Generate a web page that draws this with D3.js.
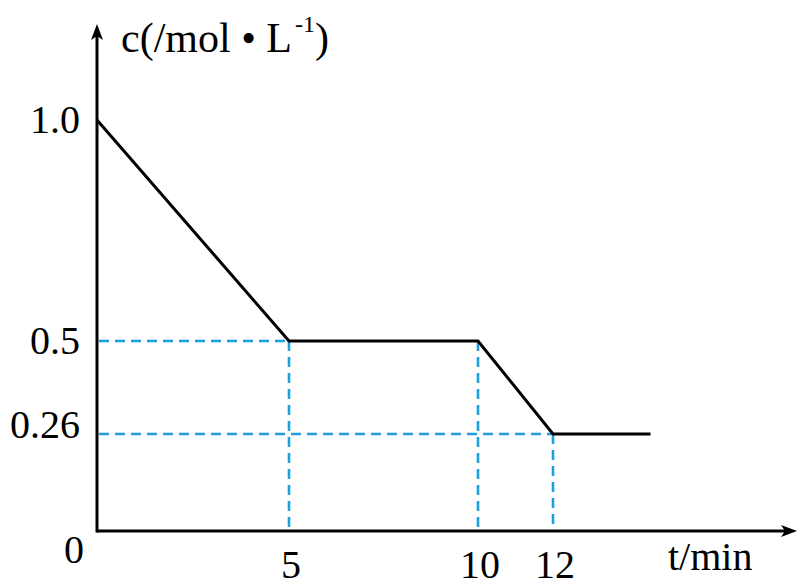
<!DOCTYPE html>
<html>
<head>
<meta charset="utf-8">
<script src="https://cdn.jsdelivr.net/npm/d3@7"></script>
<style>
  html, body { margin: 0; padding: 0; background: #fff; }
  svg { display: block; }
  text { font-family: "Liberation Serif", "Times New Roman", serif; fill: #000; }
</style>
</head>
<body>
<svg id="chart" width="800" height="587"></svg>
<script>
// ---- data ----
const tValues = [0, 5, 10, 12, 14.6];
const cValues = [1.0, 0.5, 0.5, 0.26, 0.26];
const xTickValues = [5, 10, 12];
const xTickLabels = ["5", "10", "12"];
const yTickValues = [1.0, 0.5, 0.26];
const yTickLabels = ["1.0", "0.5", "0.26"];
const guidePointsT = [5, 10, 12];
const guidePointsC = [0.5, 0.5, 0.26];
const xAxisTitle = "t/min";
const originLabel = "0";

// ---- layout ----
const svg = d3.select("#chart");
const x0 = 97, y0 = 531;
// the original figure is drawn schematically (not to scale): piecewise scales
const x = d3.scaleLinear().domain([0, 5, 10, 12]).range([x0, 289, 478, 553]);
const y = d3.scaleLinear().domain([0, 0.26, 0.5, 1.0]).range([y0, 434, 341, 120]);

const blue = "#1e9fdc";

// guide dashed lines
const guides = guidePointsT.map((t, i) => ({ t, c: guidePointsC[i] }));
const g = svg.append("g");
g.selectAll("line.h").data(guides.filter((d, i) => i !== 1)).join("line")
  .attr("x1", x(0) + 2).attr("x2", d => x(d.t))
  .attr("y1", d => y(d.c)).attr("y2", d => y(d.c))
  .attr("stroke", blue).attr("stroke-width", 2.6).attr("stroke-dasharray", "10,6");
g.selectAll("line.v").data(guides).join("line")
  .attr("x1", d => x(d.t)).attr("x2", d => x(d.t))
  .attr("y1", d => y(d.c)).attr("y2", y0 - 2)
  .attr("stroke", blue).attr("stroke-width", 2.6).attr("stroke-dasharray", "10,6");

// axes with arrows
const axisG = svg.append("g");
axisG.append("line").attr("x1", x0).attr("y1", y0).attr("x2", 786).attr("y2", y0)
  .attr("stroke", "#000").attr("stroke-width", 3);
axisG.append("line").attr("x1", x0).attr("y1", y0 + 1.5).attr("x2", x0).attr("y2", 34)
  .attr("stroke", "#000").attr("stroke-width", 3);
axisG.append("path").attr("d", `M797,${y0} L781,${y0 - 6} L785,${y0} L781,${y0 + 6} Z`).attr("fill", "#000");
axisG.append("path").attr("d", `M${x0},24 L${x0 - 6},40 L${x0},36 L${x0 + 6},40 Z`).attr("fill", "#000");

// data line
const line = d3.line().x((d, i) => x(tValues[i])).y((d, i) => y(cValues[i]));
svg.append("path").datum(cValues).attr("d", line)
  .attr("fill", "none").attr("stroke", "#000").attr("stroke-width", 3).attr("stroke-linejoin", "miter");

// tick labels
const fs = 40;
svg.selectAll("text.xt").data(xTickValues).join("text")
  .attr("x", d => x(d) + 2).attr("y", 578)
  .attr("text-anchor", "middle").attr("font-size", fs)
  .text((d, i) => xTickLabels[i]);
const yNudge = { "0.26": -9 };
svg.selectAll("text.yt").data(yTickValues).join("text")
  .attr("x", 80).attr("y", (d, i) => y(d) + 13 + (yNudge[yTickLabels[i]] || 0))
  .attr("text-anchor", "end").attr("font-size", fs)
  .text((d, i) => yTickLabels[i]);
svg.append("text").attr("x", 84).attr("y", 563).attr("text-anchor", "end")
  .attr("font-size", fs).text(originLabel);

// axis titles
svg.append("text").attr("x", 668).attr("y", 570).attr("font-size", fs).text(xAxisTitle);
const yt = svg.append("text").attr("x", 121).attr("y", 52).attr("font-size", 42);
yt.append("tspan").text("c(/mol • L");
yt.append("tspan").attr("dx", 3).attr("dy", -20).attr("font-size", 24).text("-1");
yt.append("tspan").attr("dy", 20).text(")");
</script>
</body>
</html>
